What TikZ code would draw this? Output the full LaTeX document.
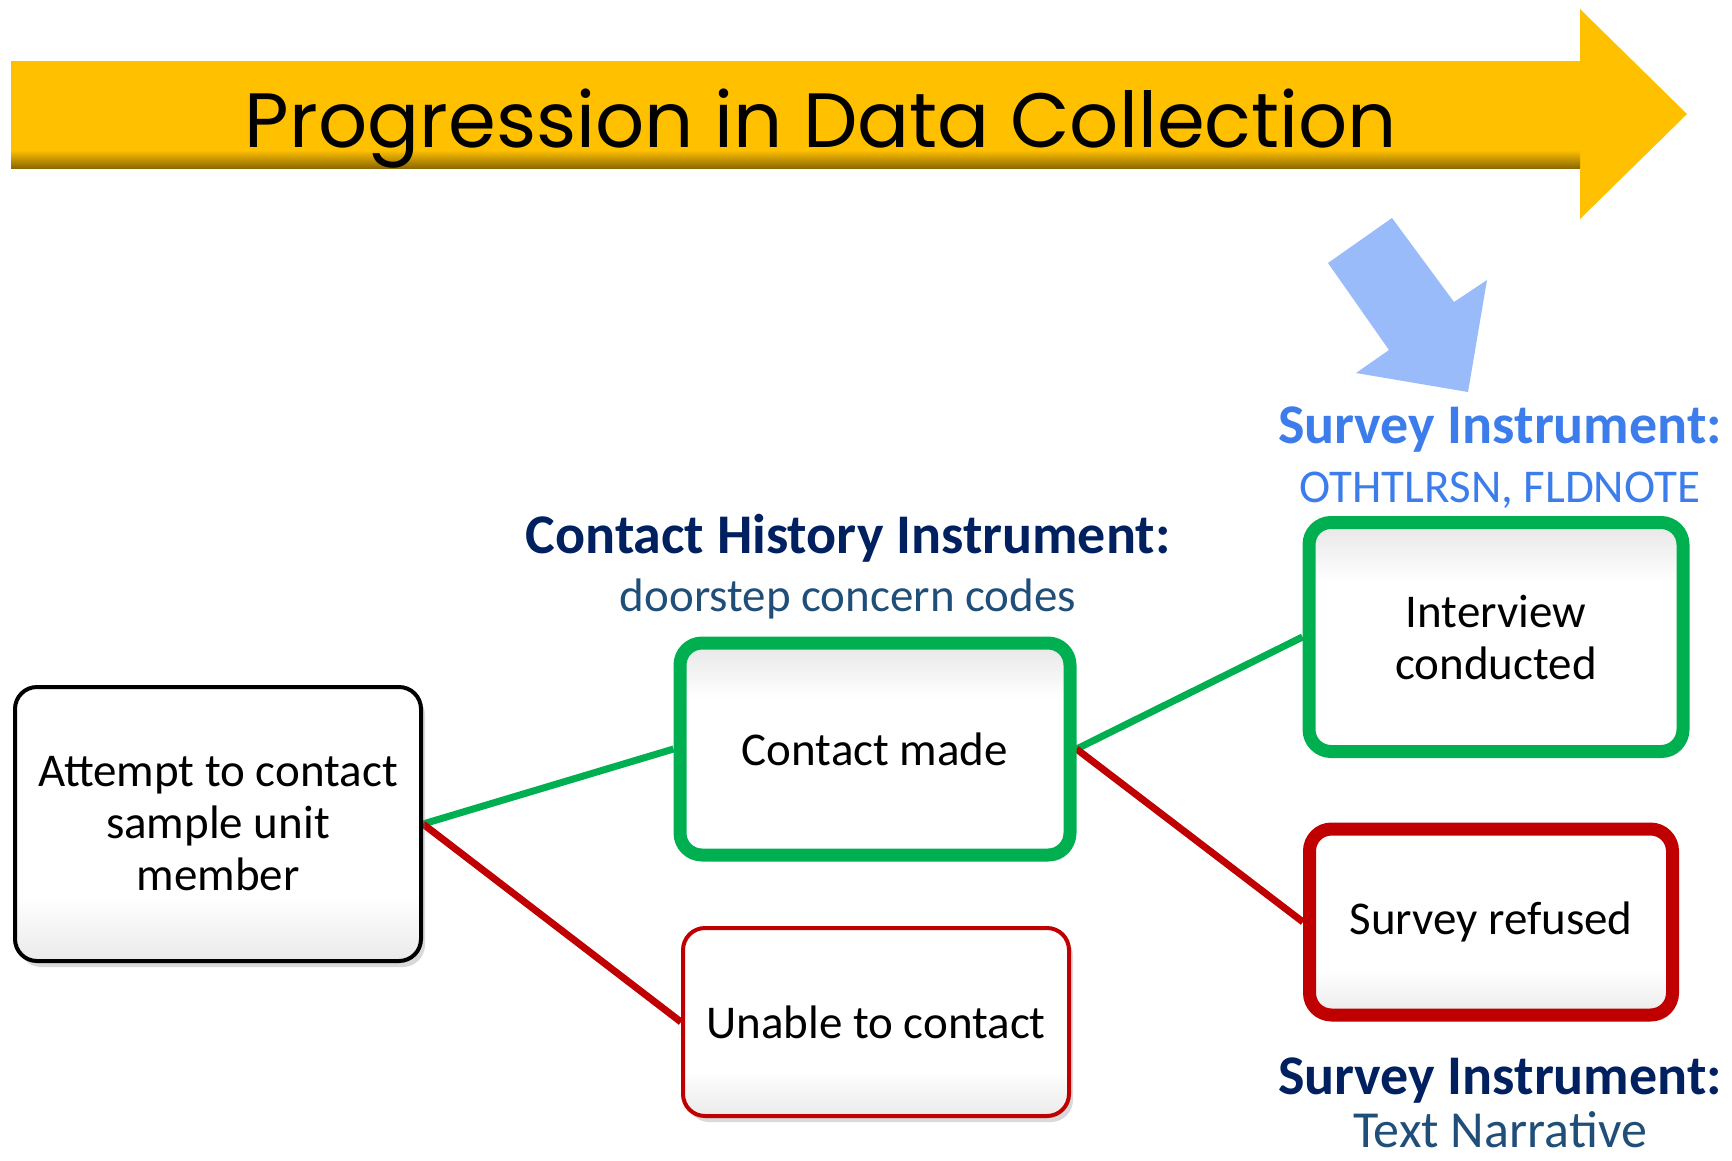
\documentclass[tikz,border=0pt]{standalone}
\usepackage{fontspec}
\setmainfont{Carlito}
\newfontfamily\bannerfont{Poppins}
\usetikzlibrary{positioning}
\usetikzlibrary{shadows}
\pgfdeclarelayer{linkbg}
\pgfsetlayers{linkbg,main}

\definecolor{bannergold}{HTML}{FFC000}
\definecolor{okgreen}{HTML}{00B050}
\definecolor{nogred}{HTML}{C00000}
\definecolor{navyhead}{HTML}{002060}
\definecolor{steelsub}{HTML}{1F4E79}
\definecolor{brightblue}{HTML}{3C7DEB}
\definecolor{pointerblue}{HTML}{99BBF9}
\definecolor{boxgray}{HTML}{EAEAEA}

% box fills, grey band low or high
\pgfdeclareverticalshading{fadelow}{100bp}{color(0bp)=(boxgray); color(25bp)=(boxgray); color(37bp)=(white); color(100bp)=(white)}
\pgfdeclareverticalshading{fadehigh}{100bp}{color(0bp)=(white); color(62bp)=(white); color(73bp)=(boxgray); color(100bp)=(boxgray)}
\pgfdeclareverticalshading{goldedge}{100bp}{color(0bp)=(bannergold!55!black); color(25bp)=(bannergold!55!black); color(75bp)=(bannergold); color(100bp)=(bannergold)}

\tikzset{
	stepbox/.style={rectangle, rounded corners=22pt, align=center,
		font=\fontsize{47}{52}\selectfont,
		drop shadow={opacity=0.3, shadow xshift=4pt, shadow yshift=-6pt}},
	plainbox/.style={stepbox, draw=black, line width=4pt, shading=fadelow},
	goodbox/.style={stepbox, draw=okgreen, line width=13pt, shading=fadehigh},
	badbox/.style={stepbox, draw=nogred, line width=13pt, shading=fadelow},
	thinbadbox/.style={stepbox, draw=nogred, line width=4pt, shading=fadelow},
	greenlink/.style={draw=okgreen, line width=7pt},
	redlink/.style={draw=nogred, line width=7pt},
	headlabel/.style={font=\fontsize{56}{60}\selectfont\bfseries, inner sep=0pt},
	sublabel/.style={font=\fontsize{47}{52}\selectfont, inner sep=0pt},
}

\begin{document}
\begin{tikzpicture}[x=1pt, y=-1pt]
	\useasboundingbox (0,0) rectangle (1732,1160);

	% Banner arrow
	\fill[bannergold] (11,61) -- (1580,61) -- (1580,9) -- (1687,114) -- (1580,219) -- (1580,168) -- (11,168) -- cycle;
	\shade[shading=goldedge] (11,150) rectangle (1580,168);
	\node[font=\bannerfont\fontsize{77}{90}\selectfont, anchor=base] (banner) at (821,147) {Progression in Data Collection};

	% Pointer to the survey instrument
	\fill[pointerblue] (1328,263) -- (1392,218) -- (1454,302) -- (1487,280) -- (1468,392) -- (1356,373) -- (1389,350) -- cycle;

	% Outcome boxes
	\node[plainbox, minimum width=406pt, minimum height=274pt] (attempt) at (218,824) {Attempt to contact\\sample unit\\member};
	\node[goodbox, minimum width=390pt, minimum height=212pt] (made) at (875,749) {Contact made};
	\node[thinbadbox, minimum width=386pt, minimum height=188pt] (unable) at (876,1022) {Unable to contact};
	\node[goodbox, minimum width=374pt, minimum height=229pt] (interview) at (1496,637) {Interview\\conducted};
	\node[badbox, minimum width=363pt, minimum height=186pt] (refused) at (1491,922) {Survey refused};

	% Instrument labels
	\node[headlabel, text=navyhead, anchor=base] (chihead) at (848,553) {Contact History Instrument:};
	\node[sublabel, text=steelsub, below=58pt of chihead.base, anchor=base] (chisub) {doorstep concern codes};
	\node[headlabel, text=brightblue, anchor=base] (svyhead) at (1500,443) {Survey Instrument:};
	\node[sublabel, text=brightblue, below=59pt of svyhead.base, anchor=base] (svysub) {OTHTLRSN, FLDNOTE};
	\node[headlabel, text=navyhead, anchor=base] (narrhead) at (1500,1094) {Survey Instrument:};
	\node[sublabel, text=steelsub, font=\fontsize{52}{56}\selectfont, below=53pt of narrhead.base, anchor=base] (narrsub) {Text Narrative};

	% Connections
	\begin{pgfonlayer}{linkbg}
		\draw[greenlink] (attempt.east) -- (made.west);
		\draw[redlink] (attempt.east) -- (unable.west);
		\draw[greenlink] (made.east) -- (interview.west);
		\draw[redlink] (made.east) -- (refused.west);
	\end{pgfonlayer}
\end{tikzpicture}
\end{document}
